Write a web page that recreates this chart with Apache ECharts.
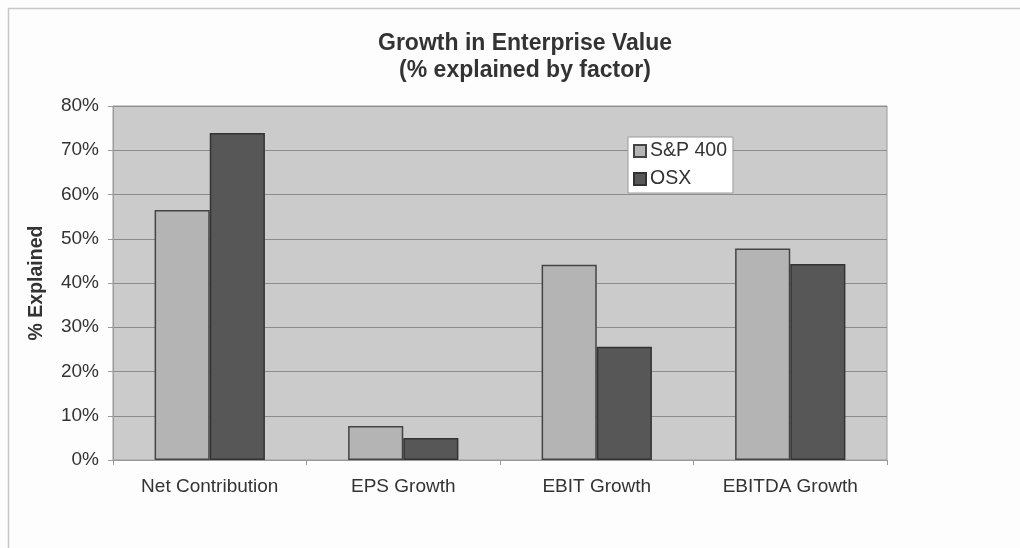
<!DOCTYPE html>
<html><head><meta charset="utf-8">
<script src="https://cdn.jsdelivr.net/npm/echarts@6/dist/echarts.min.js"></script>
<style>html,body{margin:0;padding:0;background:#fdfdfd}#c{width:1020px;height:548px}</style>
</head><body><div id="c"></div>
<script>
const categories = ['Net Contribution', 'EPS Growth', 'EBIT Growth', 'EBITDA Growth'];
const sp400 = [56.5, 7.7, 44.1, 47.8];
const osx = [73.9, 5.0, 25.6, 44.3];
const yTicks = [0, 10, 20, 30, 40, 50, 60, 70, 80];

const chart = echarts.init(document.getElementById('c'), null, {renderer: 'canvas'});
const font = 'Liberation Sans, Arial, sans-serif';
chart.setOption({
  backgroundColor: '#fdfdfd',
  animation: false,
  textStyle: {fontFamily: font},
  title: {
    text: 'Growth in Enterprise Value\n(% explained by factor)',
    left: 520, top: 25, textAlign: 'center',
    textStyle: {fontSize: 23, fontWeight: 'bold', color: '#333', lineHeight: 27, fontFamily: font}
  },
  graphic: [{
    type: 'rect', shape: {x: 8.5, y: 8.5, width: 1100, height: 700},
    style: {fill: null, stroke: '#c8c8c8', lineWidth: 1.5}, silent: true
  }],
  legend: {
    orient: 'vertical', left: 628, top: 137,
    backgroundColor: '#ffffff', borderColor: '#999', borderWidth: 1,
    padding: [4, 6, 4, 5], itemGap: 8, itemWidth: 12, itemHeight: 12,
    icon: 'rect',
    textStyle: {fontSize: 19.5, color: '#333', fontFamily: font, padding: [0, 0, 0, -1]},
    data: ['S&P 400', 'OSX']
  },
  grid: {
    left: 113, right: 133, top: 106, bottom: 88, show: true,
    backgroundColor: '#cbcbcb', borderColor: '#9a9a9a', borderWidth: 1
  },
  xAxis: {
    type: 'category', data: categories,
    axisLine: {lineStyle: {color: '#9a9a9a', width: 1}},
    axisTick: {show: true, length: 5, lineStyle: {color: '#9a9a9a'}},
    axisLabel: {fontSize: 19, color: '#333', margin: 17, fontFamily: font}
  },
  yAxis: {
    type: 'value', min: yTicks[0], max: yTicks[yTicks.length - 1], interval: 10,
    name: '% Explained', nameLocation: 'middle', nameGap: 66, nameRotate: 90,
    nameTextStyle: {fontSize: 19.5, fontWeight: 'bold', color: '#333', fontFamily: font},
    axisLine: {show: true, lineStyle: {color: '#9a9a9a'}},
    axisTick: {show: true, length: 5, lineStyle: {color: '#9a9a9a'}},
    axisLabel: {fontSize: 19, color: '#333', margin: 14, formatter: '{value}%', fontFamily: font},
    splitLine: {show: true, lineStyle: {color: '#8c8c8c', width: 1}}
  },
  series: [
    {name: 'S&P 400', type: 'bar', data: sp400, barGap: '0%', barCategoryGap: '43%',
     itemStyle: {color: '#b4b4b4', borderColor: '#444', borderWidth: 1.5}},
    {name: 'OSX', type: 'bar', data: osx,
     itemStyle: {color: '#575757', borderColor: '#333', borderWidth: 1.5}}
  ]
});
</script></body></html>
